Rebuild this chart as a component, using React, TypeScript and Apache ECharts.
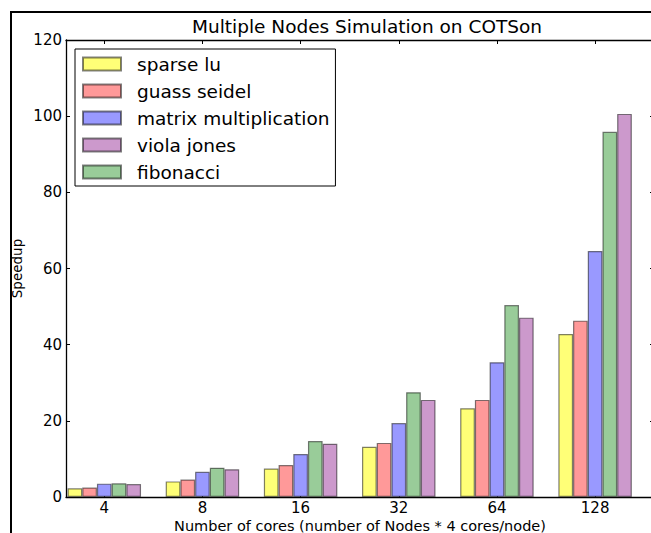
import React, { useEffect, useRef } from 'react';
import * as echarts from 'echarts';

const categories = ['4', '8', '16', '32', '64', '128'];
const sparseLu = [2.3, 4.1, 7.5, 13.2, 23.3, 42.8];
const guassSeidel = [2.5, 4.6, 8.4, 14.2, 25.5, 46.3];
const matrixMultiplication = [3.5, 6.6, 11.3, 19.4, 35.4, 64.6];
const fibonacci = [3.6, 7.7, 14.7, 27.5, 50.4, 95.9];
const violaJones = [3.4, 7.3, 14.0, 25.5, 47.1, 100.6];

const seriesNames = ['sparse lu', 'guass seidel', 'matrix multiplication', 'fibonacci', 'viola jones'];
const seriesValues = [sparseLu, guassSeidel, matrixMultiplication, fibonacci, violaJones];
const seriesColors = ['#ffff77', '#ff9999', '#9999ff', '#99cc99', '#cc99cc'];
const legendOrder = ['sparse lu', 'guass seidel', 'matrix multiplication', 'viola jones', 'fibonacci'];

const titleText = 'Multiple Nodes Simulation on COTSon';
const xAxisName = 'Number of cores (number of Nodes * 4 cores/node)';
const yAxisName = 'Speedup';

const FONT = 'DejaVu Sans';

export default function App() {
  const ref = useRef<HTMLDivElement>(null);

  useEffect(() => {
    if (!ref.current) return;
    const chart = echarts.init(ref.current, null, { renderer: 'svg' });
    const catIdx = categories.map((_, i) => i);
    const xMin = -0.39;
    const xMax = 5.6;

    const option: any = {
      animation: false,
      backgroundColor: '#ffffff',
      title: {
        text: titleText,
        left: 362,
        top: 12,
        textAlign: 'center',
        textStyle: { fontFamily: FONT, fontSize: 18.5, fontWeight: 'normal', color: '#000' },
      },
      legend: {
        data: legendOrder,
        orient: 'vertical',
        left: 75,
        top: 49,
        padding: [4, 6, 3, 7],
        itemWidth: 38,
        itemHeight: 13,
        itemGap: 5,
        icon: 'rect',
        borderColor: '#000',
        borderWidth: 1,
        selectedMode: false,
        textStyle: {
          fontFamily: FONT,
          fontSize: 18.5,
          color: '#000',
          lineHeight: 22,
          padding: [0, 0, 0, 11],
        },
      },
      graphic: [
        { type: 'line', shape: { x1: 11, y1: 12, x2: 11, y2: 533 }, style: { stroke: '#000', lineWidth: 2 } },
        { type: 'line', shape: { x1: 10, y1: 12, x2: 651, y2: 12 }, style: { stroke: '#000', lineWidth: 2 } },
      ],
      grid: { left: 66, top: 40, right: -3, bottom: 36, containLabel: false, outerBoundsMode: 'none' },
      xAxis: [
        {
          type: 'value',
          position: 'bottom',
          min: xMin,
          max: xMax,
          name: xAxisName,
          nameLocation: 'middle',
          nameGap: 21,
          nameMoveOverlap: false,
          nameTextStyle: { fontFamily: FONT, fontSize: 14.5, color: '#000', lineHeight: 15 },
          axisLine: { show: true, onZero: false, lineStyle: { color: '#000', width: 1.3 } },
          axisTick: { show: true, inside: true, length: 4, customValues: catIdx, lineStyle: { color: '#000', width: 1 } },
          axisLabel: {
            customValues: catIdx,
            formatter: (v: number) => categories[Math.round(v)] ?? '',
            fontFamily: FONT,
            fontSize: 15,
            lineHeight: 15,
            color: '#000',
            margin: 3,
          },
          splitLine: { show: false },
        },
        {
          type: 'value',
          position: 'top',
          min: xMin,
          max: xMax,
          axisLine: { show: true, onZero: false, lineStyle: { color: '#000', width: 1.3 } },
          axisTick: { show: true, inside: true, length: 4, customValues: catIdx, lineStyle: { color: '#000', width: 1 } },
          axisLabel: { show: false },
          splitLine: { show: false },
        },
      ],
      yAxis: [
        {
          type: 'value',
          position: 'left',
          min: 0,
          max: 120,
          interval: 20,
          name: yAxisName,
          nameLocation: 'middle',
          nameGap: 42,
          nameMoveOverlap: false,
          nameTextStyle: { fontFamily: FONT, fontSize: 13.5, color: '#000' },
          axisLine: { show: true, onZero: false, lineStyle: { color: '#000', width: 1.3 } },
          axisTick: { show: true, inside: true, length: 4, lineStyle: { color: '#000', width: 1 } },
          axisLabel: { fontFamily: FONT, fontSize: 15, color: '#000', margin: 4 },
          splitLine: { show: false },
        },
        {
          type: 'value',
          position: 'right',
          min: 0,
          max: 120,
          interval: 20,
          axisLine: { show: true, onZero: false, lineStyle: { color: '#000', width: 1.3 } },
          axisTick: { show: true, inside: true, length: 4, lineStyle: { color: '#000', width: 1 } },
          axisLabel: { show: false },
          splitLine: { show: false },
        },
      ],
      series: seriesNames.map((name, s) => ({
        name,
        type: 'bar',
        xAxisIndex: 0,
        yAxisIndex: 0,
        barWidth: 14.7,
        barGap: '0%',
        data: seriesValues[s].map((v, i) => [i, v]),
        itemStyle: {
          color: seriesColors[s],
          borderColor: 'rgba(0,0,0,0.5)',
          borderWidth: 1.2,
        },
      })),
    };

    chart.setOption(option);
    return () => chart.dispose();
  }, []);

  return (
    <div
      ref={ref}
      style={{ position: 'absolute', left: 0, top: 0, width: 651, height: 533 }}
    />
  );
}
